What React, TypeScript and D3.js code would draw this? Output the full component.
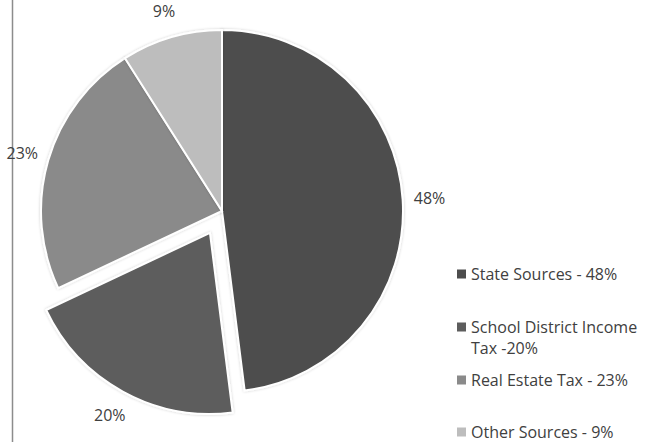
import React from "react";
import * as d3 from "d3";

const categories = ["State Sources", "School District Income Tax", "Real Estate Tax", "Other Sources"];
const values = [48, 20, 23, 9];
const sliceLabels = ["48%", "20%", "23%", "9%"];
const legendLines = [["State Sources - 48%"], ["School District Income", "Tax -20%"], ["Real Estate Tax - 23%"], ["Other Sources - 9%"]];
const colors = ["#4d4d4d", "#5d5d5d", "#8a8a8a", "#bdbdbd"];
const exploded = [false, true, false, false];

export default function App() {
  const W = 657, H = 442;
  const cx = 222, cy = 211, r = 181;
  const pie = d3.pie<number>().sort(null).value((d) => d)(values);
  const arc = d3.arc<d3.PieArcDatum<number>>().innerRadius(0).outerRadius(r);
  const labelR = r + 27;
  const legendY = [274, 327, 380, 432];
  const font = "'Open Sans', 'Liberation Sans', sans-serif";
  return (
    <svg width={W} height={H} style={{ position: "absolute", left: 0, top: 0 }}>
      <defs>
        <filter id="sh" x="-20%" y="-20%" width="140%" height="140%">
          <feGaussianBlur in="SourceAlpha" stdDeviation="1.5" />
          <feComponentTransfer><feFuncA type="linear" slope="0.2" /></feComponentTransfer>
          <feMerge><feMergeNode /><feMergeNode in="SourceGraphic" /></feMerge>
        </filter>
      </defs>
      <rect x={0} y={0} width={W} height={H} fill="#fff" />
      <line x1={12.5} y1={0} x2={12.5} y2={H} stroke="#8c8c8c" strokeWidth={1.5} />
      <g transform={`translate(${cx},${cy})`}>
        {pie.map((p, i) => {
          const mid = (p.startAngle + p.endAngle) / 2;
          const off = exploded[i] ? 25 : 0;
          const dx = Math.sin(mid) * off, dy = -Math.cos(mid) * off;
          return (
            <path key={i} d={arc(p) || ""} transform={`translate(${dx},${dy})`} fill={colors[i]} stroke="#fff" strokeWidth={2} filter="url(#sh)" />
          );
        })}
        {pie.map((p, i) => {
          const mid = (p.startAngle + p.endAngle) / 2;
          const off = exploded[i] ? 25 : 0;
          const rr = labelR + off;
          return (
            <text key={i} x={Math.sin(mid) * rr} y={-Math.cos(mid) * rr} textAnchor="middle" dominantBaseline="central" fontFamily={font} fontSize={16} fill="#404040">
              {sliceLabels[i]}
            </text>
          );
        })}
      </g>
      {categories.map((c, i) => (
        <g key={c}>
          <rect x={457} y={legendY[i] - 4.5} width={9} height={9} fill={colors[i]} />
          {legendLines[i].map((t, j) => (
            <text key={j} x={471} y={legendY[i] + j * 21} dominantBaseline="central" fontFamily={font} fontSize={16} fill="#404040">{t}</text>
          ))}
        </g>
      ))}
    </svg>
  );
}
